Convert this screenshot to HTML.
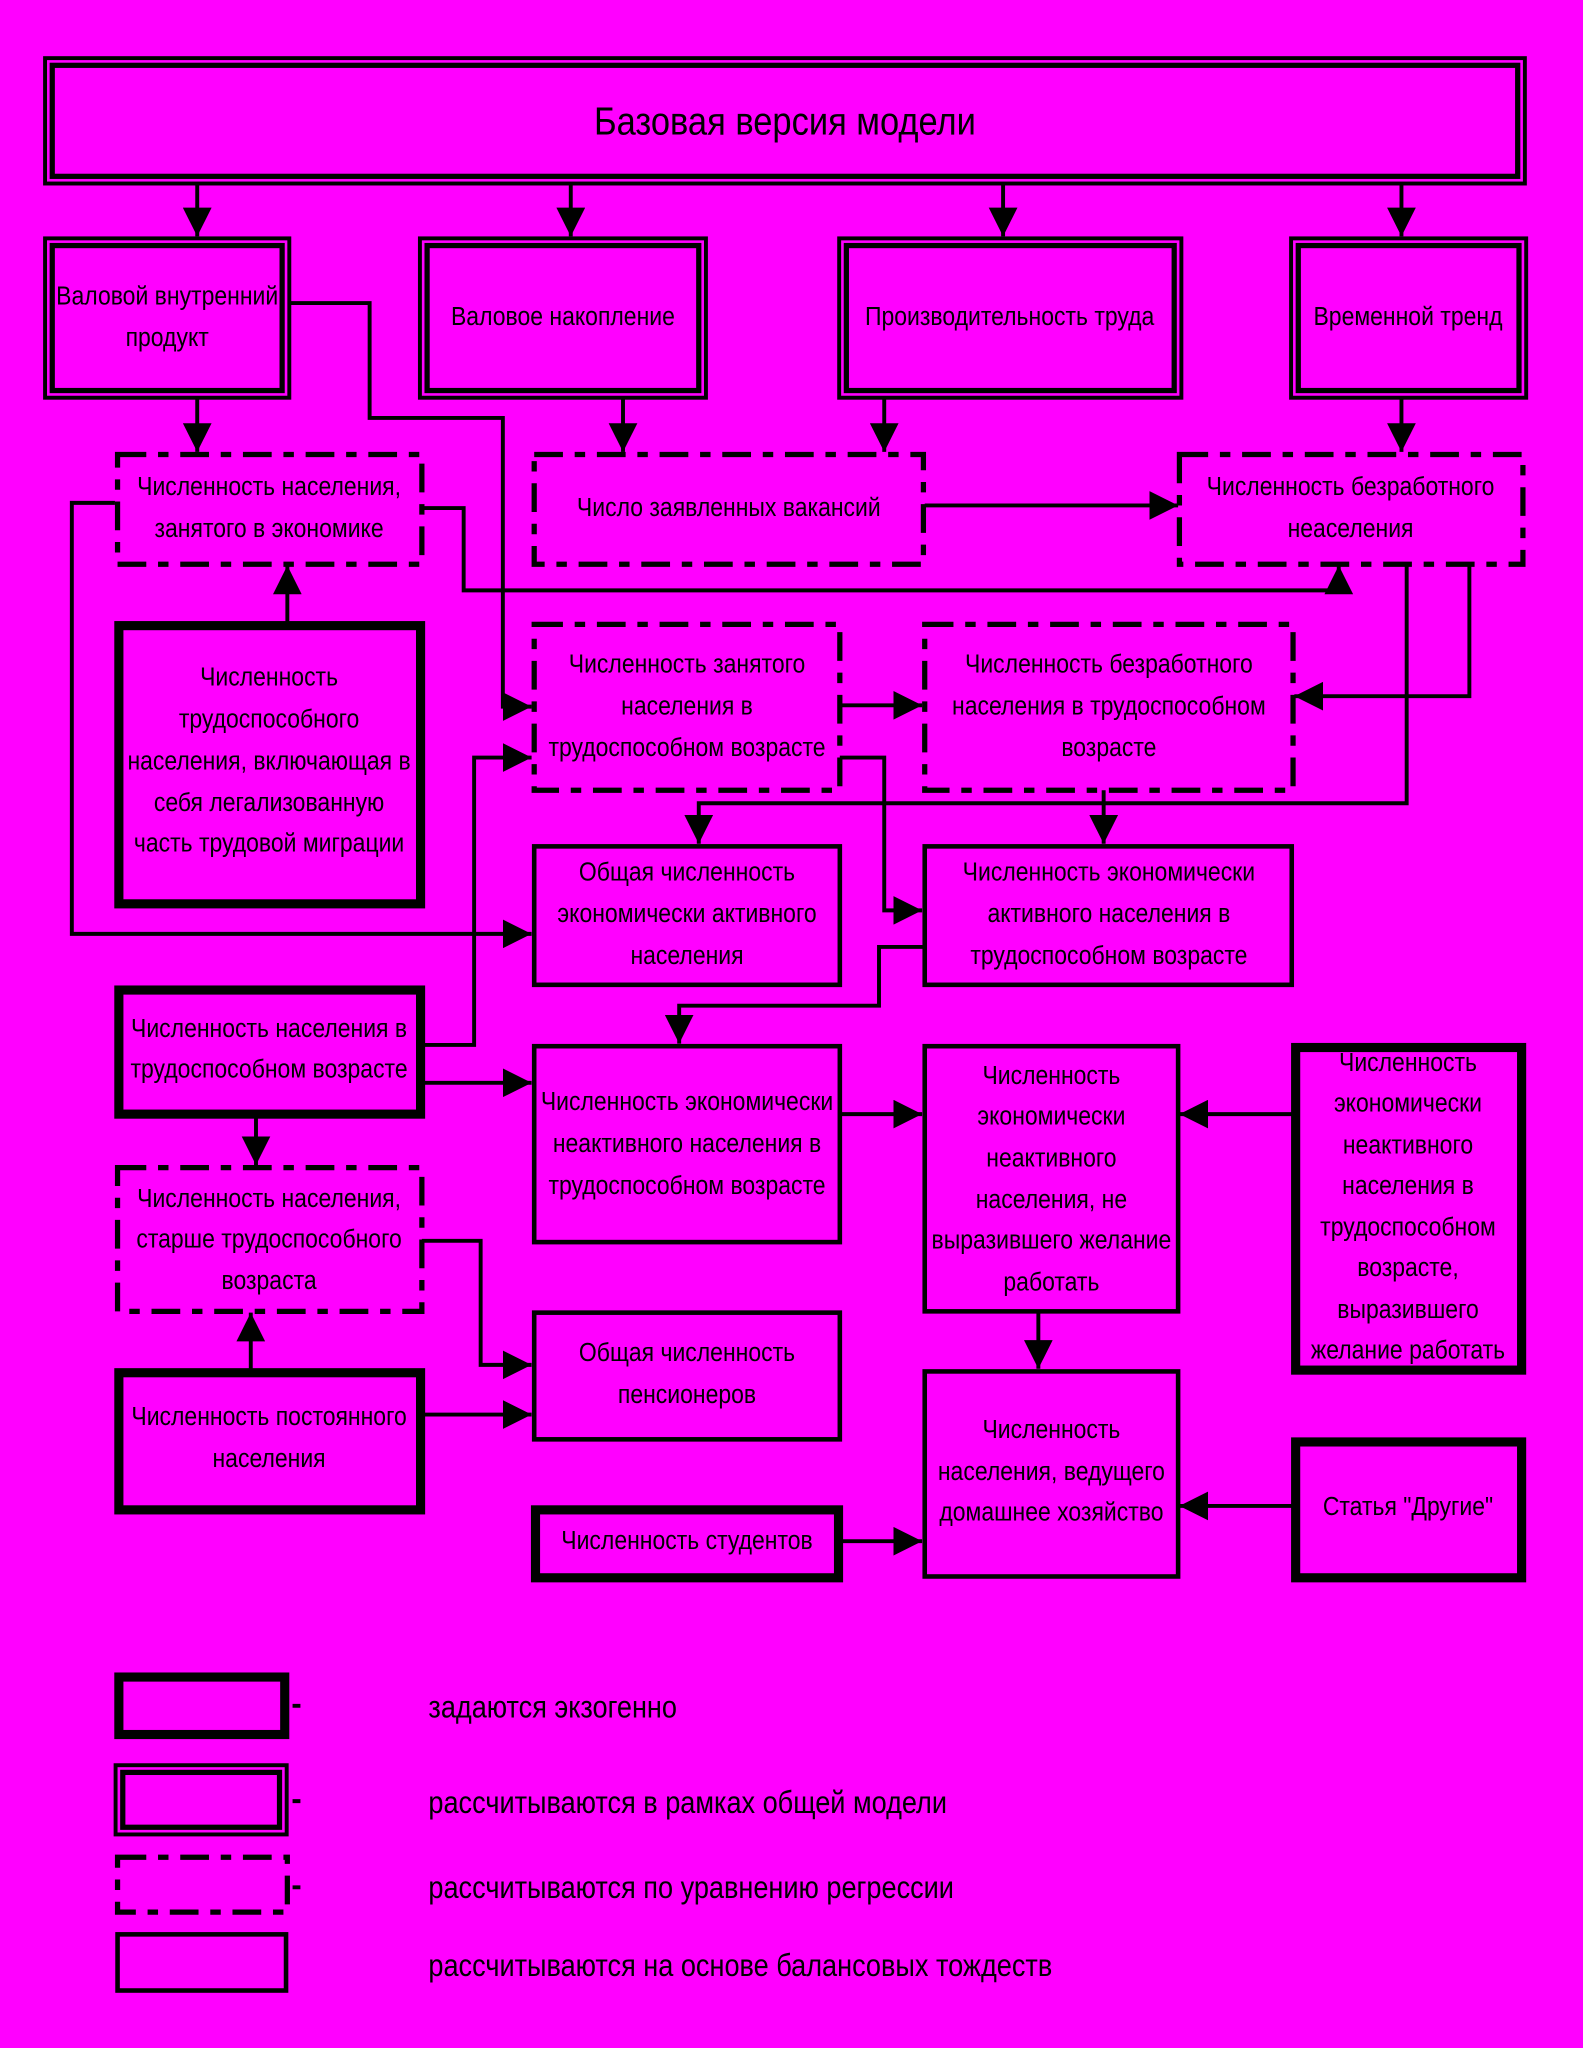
<!DOCTYPE html>
<html><head><meta charset="utf-8">
<style>
html,body{margin:0;padding:0;background:#ff00ff;}
svg{display:block;}
text{font-family:"Liberation Sans",sans-serif;font-size:20px;fill:#000;text-anchor:middle;}
</style></head><body>
<svg width="1583" height="2048" viewBox="0 0 1212 1568" xmlns="http://www.w3.org/2000/svg">
<defs>
<marker id="a" markerUnits="userSpaceOnUse" markerWidth="22" markerHeight="22" refX="20" refY="10" orient="auto" viewBox="0 0 20 20">
<path d="M0,0 L20,10 L0,20 z" fill="#000"/></marker>
</defs>
<rect width="1212" height="1568" fill="#ff00ff"/>
<g fill="none" stroke="#000">
<rect x="34.5" y="44.5" width="1133" height="96" stroke-width="3"/>
<rect x="40" y="50" width="1122" height="85" stroke-width="4"/>
<rect x="34.5" y="182.5" width="187" height="122" stroke-width="3"/><rect x="40" y="188" width="176" height="111" stroke-width="4"/>
<rect x="321.5" y="182.5" width="219" height="122" stroke-width="3"/><rect x="327" y="188" width="208" height="111" stroke-width="4"/>
<rect x="642.5" y="182.5" width="262" height="122" stroke-width="3"/><rect x="648" y="188" width="251" height="111" stroke-width="4"/>
<rect x="988.5" y="182.5" width="180" height="122" stroke-width="3"/><rect x="994" y="188" width="169" height="111" stroke-width="4"/>
<g stroke-width="4" stroke-dasharray="22 9 8 9">
<rect x="90" y="348" width="233" height="84"/>
<rect x="409" y="348" width="298" height="84"/>
<rect x="903" y="348" width="263" height="84"/>
<rect x="409" y="478" width="234" height="127"/>
<rect x="708" y="478" width="282" height="127"/>
<rect x="90" y="894" width="233" height="110"/>
<rect x="90" y="1422" width="130" height="42"/>
</g>
<g stroke-width="7">
<rect x="91" y="479" width="231" height="213"/>
<rect x="91" y="758" width="231" height="95"/>
<rect x="91" y="1051" width="231" height="105"/>
<rect x="410" y="1156" width="232" height="52"/>
<rect x="992" y="802" width="173" height="247"/>
<rect x="992" y="1104" width="173" height="104"/>
<rect x="91" y="1284" width="127" height="44"/>
</g>
<rect x="88.5" y="1351.5" width="131" height="53" stroke-width="3"/><rect x="94" y="1357" width="120" height="42" stroke-width="4"/>
<g stroke-width="3.5">
<rect x="409" y="648" width="234" height="106"/>
<rect x="708" y="648" width="281" height="106"/>
<rect x="409" y="801" width="234" height="150"/>
<rect x="708" y="801" width="194" height="203"/>
<rect x="409" y="1005" width="234" height="97"/>
<rect x="708" y="1050" width="194" height="157"/>
<rect x="90" y="1481" width="129" height="43"/>
</g>
<g stroke-width="3"><path d="M224 1306h6M224 1379h6M224 1445h6"/></g>
<g stroke-width="3">
<path d="M151 141V181" marker-end="url(#a)"/>
<path d="M437 141V181" marker-end="url(#a)"/>
<path d="M768 141V181" marker-end="url(#a)"/>
<path d="M1073 141V181" marker-end="url(#a)"/>
<path d="M151 305V346" marker-end="url(#a)"/>
<path d="M477 305V346" marker-end="url(#a)"/>
<path d="M677 305V346" marker-end="url(#a)"/>
<path d="M1073 305V346" marker-end="url(#a)"/>
<path d="M222 232H283V320H385V541H407" marker-end="url(#a)"/>
<path d="M708 387H902" marker-end="url(#a)"/>
<path d="M323 389H355V452H1025V433" marker-end="url(#a)"/>
<path d="M220 476V433" marker-end="url(#a)"/>
<path d="M1125 432V533H991" marker-end="url(#a)"/>
<path d="M1077 432V615H535V646" marker-end="url(#a)"/>
<path d="M845 605V646" marker-end="url(#a)"/>
<path d="M643 540H706" marker-end="url(#a)"/>
<path d="M643 580H677V697H706" marker-end="url(#a)"/>
<path d="M88 385H55V715H407" marker-end="url(#a)"/>
<path d="M323 800H363V580H407" marker-end="url(#a)"/>
<path d="M323 829H407" marker-end="url(#a)"/>
<path d="M707 725H673V770H520V799" marker-end="url(#a)"/>
<path d="M643 853H706" marker-end="url(#a)"/>
<path d="M990 853H903" marker-end="url(#a)"/>
<path d="M196 855V892" marker-end="url(#a)"/>
<path d="M323 950H368V1045H407" marker-end="url(#a)"/>
<path d="M192 1048V1005" marker-end="url(#a)"/>
<path d="M323 1083H407" marker-end="url(#a)"/>
<path d="M795 1004V1048" marker-end="url(#a)"/>
<path d="M643 1180H706" marker-end="url(#a)"/>
<path d="M990 1153H903" marker-end="url(#a)"/>
</g>
</g>
<g transform="translate(601,0) scale(0.88,1)"><text x="0" y="103" style="font-size:30px">Базовая версия модели</text></g>
<g transform="translate(128,0) scale(0.88,1)"><text x="0" y="233">Валовой внутренний</text><text x="0" y="265">продукт</text></g>
<g transform="translate(431,0) scale(0.88,1)"><text x="0" y="249">Валовое накопление</text></g>
<g transform="translate(773,0) scale(0.88,1)"><text x="0" y="249">Производительность труда</text></g>
<g transform="translate(1078,0) scale(0.88,1)"><text x="0" y="249">Временной тренд</text></g>
<g transform="translate(206,0) scale(0.88,1)"><text x="0" y="379">Численность населения,</text><text x="0" y="411">занятого в экономике</text></g>
<g transform="translate(558,0) scale(0.88,1)"><text x="0" y="395">Число заявленных вакансий</text></g>
<g transform="translate(1034,0) scale(0.88,1)"><text x="0" y="379">Численность безработного</text><text x="0" y="411">неаселения</text></g>
<g transform="translate(206,0) scale(0.88,1)"><text x="0" y="525">Численность</text><text x="0" y="557">трудоспособного</text><text x="0" y="589">населения, включающая в</text><text x="0" y="621">себя легализованную</text><text x="0" y="652">часть трудовой миграции</text></g>
<g transform="translate(526,0) scale(0.88,1)"><text x="0" y="515">Численность занятого</text><text x="0" y="547">населения в</text><text x="0" y="579">трудоспособном возрасте</text></g>
<g transform="translate(849,0) scale(0.88,1)"><text x="0" y="515">Численность безработного</text><text x="0" y="547">населения в трудоспособном</text><text x="0" y="579">возрасте</text></g>
<g transform="translate(526,0) scale(0.88,1)"><text x="0" y="674">Общая численность</text><text x="0" y="706">экономически активного</text><text x="0" y="738">населения</text></g>
<g transform="translate(849,0) scale(0.88,1)"><text x="0" y="674">Численность экономически</text><text x="0" y="706">активного населения в</text><text x="0" y="738">трудоспособном возрасте</text></g>
<g transform="translate(206,0) scale(0.88,1)"><text x="0" y="794">Численность населения в</text><text x="0" y="825">трудоспособном возрасте</text></g>
<g transform="translate(526,0) scale(0.88,1)"><text x="0" y="850">Численность экономически</text><text x="0" y="882">неактивного населения в</text><text x="0" y="914">трудоспособном возрасте</text></g>
<g transform="translate(805,0) scale(0.88,1)"><text x="0" y="830">Численность</text><text x="0" y="861">экономически</text><text x="0" y="893">неактивного</text><text x="0" y="925">населения, не</text><text x="0" y="956">выразившего желание</text><text x="0" y="988">работать</text></g>
<g transform="translate(1078,0) scale(0.88,1)"><text x="0" y="820">Численность</text><text x="0" y="851">экономически</text><text x="0" y="883">неактивного</text><text x="0" y="914">населения в</text><text x="0" y="946">трудоспособном</text><text x="0" y="977">возрасте,</text><text x="0" y="1009">выразившего</text><text x="0" y="1040">желание работать</text></g>
<g transform="translate(206,0) scale(0.88,1)"><text x="0" y="924">Численность населения,</text><text x="0" y="955">старше трудоспособного</text><text x="0" y="987">возраста</text></g>
<g transform="translate(526,0) scale(0.88,1)"><text x="0" y="1042">Общая численность</text><text x="0" y="1074">пенсионеров</text></g>
<g transform="translate(206,0) scale(0.88,1)"><text x="0" y="1091">Численность постоянного</text><text x="0" y="1123">населения</text></g>
<g transform="translate(805,0) scale(0.88,1)"><text x="0" y="1101">Численность</text><text x="0" y="1133">населения, ведущего</text><text x="0" y="1164">домашнее хозяйство</text></g>
<g transform="translate(1078,0) scale(0.88,1)"><text x="0" y="1160">Статья "Другие"</text></g>
<g transform="translate(526,0) scale(0.88,1)"><text x="0" y="1186">Численность студентов</text></g>
<g transform="translate(328,0) scale(0.865,1)">
<text x="0" y="1315" style="text-anchor:start;font-size:24px">задаются экзогенно</text>
<text x="0" y="1388" style="text-anchor:start;font-size:24px">рассчитываются в рамках общей модели</text>
<text x="0" y="1453" style="text-anchor:start;font-size:24px">рассчитываются по уравнению регрессии</text>
<text x="0" y="1513" style="text-anchor:start;font-size:24px">рассчитываются на основе балансовых тождеств</text>
</g>
</svg>
</body></html>
